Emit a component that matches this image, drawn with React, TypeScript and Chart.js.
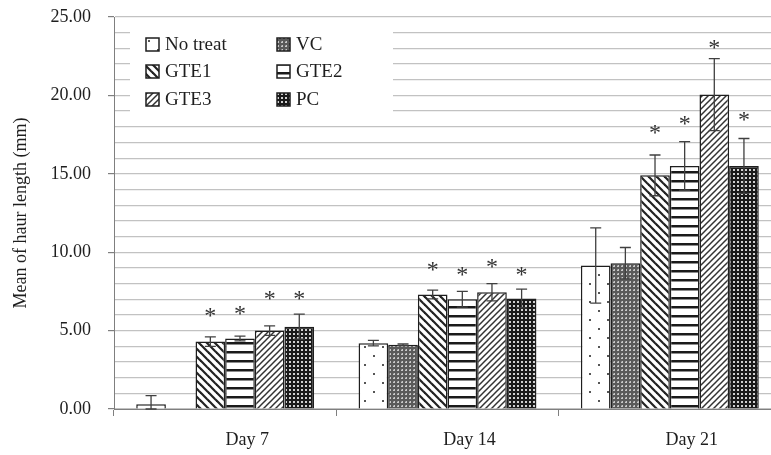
import React, { useEffect, useRef } from 'react';
import { Chart, registerables } from 'chart.js';

Chart.register(...registerables);

const categories = ['Day 7', 'Day 14', 'Day 21'];
const seriesNames = ['No treat', 'VC', 'GTE1', 'GTE2', 'GTE3', 'PC'];

const noTreat = [0.3, 4.2, 9.15];
const vc = [0, 4.1, 9.3];
const gte1 = [4.3, 7.3, 14.9];
const gte2 = [4.5, 7.0, 15.5];
const gte3 = [5.0, 7.45, 20.05];
const pc = [5.25, 7.05, 15.5];

const noTreatErr = [0.55, 0.18, 2.4];
const vcErr = [0, 0.05, 1.0];
const gte1Err = [0.3, 0.28, 1.3];
const gte2Err = [0.15, 0.5, 1.55];
const gte3Err = [0.3, 0.55, 2.3];
const pcErr = [0.8, 0.6, 1.75];

// height (mm) at which the significance asterisk is centred; null = no mark
const noTreatSig = [null, null, null];
const vcSig = [null, null, null];
const gte1Sig = [6.05, 9.0, 17.7];
const gte2Sig = [6.2, 8.65, 18.3];
const gte3Sig = [7.15, 9.2, 23.15];
const pcSig = [7.15, 8.65, 18.55];

const yMin = 0;
const yMax = 25;
const yMajorStep = 5;
const yMinorStep = 1;
const yTitle = 'Mean of haur length (mm)';

const values = [noTreat, vc, gte1, gte2, gte3, pc];
const errors = [noTreatErr, vcErr, gte1Err, gte2Err, gte3Err, pcErr];
const significant: (number | null)[][] = [noTreatSig, vcSig, gte1Sig, gte2Sig, gte3Sig, pcSig];

const FONT = 'Liberation Serif';
const INK = '#1e1e1e';

function tile(w: number, h: number, draw: (c: CanvasRenderingContext2D) => void): CanvasPattern {
  const cv = document.createElement('canvas');
  cv.width = w;
  cv.height = h;
  const c = cv.getContext('2d') as CanvasRenderingContext2D;
  draw(c);
  const p = c.createPattern(cv, 'repeat') as CanvasPattern;
  return p;
}

function makePatterns(): CanvasPattern[] {
  const dots = tile(18, 18, (c) => {
    c.fillStyle = '#fff';
    c.fillRect(0, 0, 18, 18);
    c.fillStyle = '#555';
    c.fillRect(4, 4, 2, 2);
    c.fillRect(13, 13, 2, 2);
  });
  const gray = tile(4, 4, (c) => {
    c.fillStyle = '#5a5a5a';
    c.fillRect(0, 0, 4, 4);
    c.fillStyle = '#c8c8c8';
    c.fillRect(1, 1, 2, 2);
    c.fillStyle = '#8a8a8a';
    c.fillRect(1, 1, 1, 1);
  });
  const wideDown = tile(8, 8, (c) => {
    c.fillStyle = '#fff';
    c.fillRect(0, 0, 8, 8);
    c.strokeStyle = '#222';
    c.lineWidth = 2.2;
    for (let k = -1; k <= 1; k++) {
      c.beginPath();
      c.moveTo(-2 + k * 8, -2);
      c.lineTo(10 + k * 8, 10);
      c.stroke();
    }
  });
  const horiz = tile(8, 9, (c) => {
    c.fillStyle = '#fff';
    c.fillRect(0, 0, 8, 9);
    c.fillStyle = '#1a1a1a';
    c.fillRect(0, 0, 8, 2.5);
  });
  const narrowUp = tile(6, 6, (c) => {
    c.fillStyle = '#fff';
    c.fillRect(0, 0, 6, 6);
    c.strokeStyle = '#333';
    c.lineWidth = 1.5;
    for (let k = -1; k <= 1; k++) {
      c.beginPath();
      c.moveTo(-2 + k * 6, 8);
      c.lineTo(8 + k * 6, -2);
      c.stroke();
    }
  });
  const darkGrid = tile(4, 4, (c) => {
    c.fillStyle = '#1a1a1a';
    c.fillRect(0, 0, 4, 4);
    c.fillStyle = '#d0d0d0';
    c.fillRect(1, 1, 2, 2);
  });
  return [dots, gray, wideDown, horiz, narrowUp, darkGrid];
}

const errorBarPlugin = {
  id: 'errorBars',
  afterDatasetsDraw(chart: any) {
    const ctx = chart.ctx as CanvasRenderingContext2D;
    const y = chart.scales.y;
    ctx.save();
    chart.data.datasets.forEach((ds: any, i: number) => {
      const meta = chart.getDatasetMeta(i);
      meta.data.forEach((el: any, j: number) => {
        const v = values[i][j];
        const e = errors[i][j];
        const x = el.x;
        const top = y.getPixelForValue(v + e);
        const bot = y.getPixelForValue(Math.max(v - e, 0));
        if (e > 0) {
          ctx.strokeStyle = '#404040';
          ctx.lineWidth = 1.3;
          ctx.beginPath();
          ctx.moveTo(x, top);
          ctx.lineTo(x, bot);
          ctx.moveTo(x - 5.5, top);
          ctx.lineTo(x + 5.5, top);
          ctx.moveTo(x - 5.5, bot);
          ctx.lineTo(x + 5.5, bot);
          ctx.stroke();
        }
        const s = significant[i][j];
        if (s !== null && s !== undefined) {
          ctx.fillStyle = '#333';
          ctx.font = `24px "${FONT}"`;
          ctx.textAlign = 'center';
          ctx.textBaseline = 'alphabetic';
          ctx.fillText('*', x, y.getPixelForValue(s) + 9);
        }
      });
    });
    ctx.restore();
  },
};

const boxLegendPlugin = {
  id: 'boxLegend',
  afterDraw(chart: any) {
    const ctx = chart.ctx as CanvasRenderingContext2D;
    ctx.save();
    ctx.fillStyle = '#ffffff';
    ctx.fillRect(130, 20, 263, 100);
    const colX = [146, 277];
    const rowY = [38, 65, 93];
    chart.data.datasets.forEach((ds: any, i: number) => {
      const col = i % 2;
      const row = Math.floor(i / 2);
      const mx = colX[col];
      const my = rowY[row];
      ctx.fillStyle = ds.backgroundColor;
      ctx.fillRect(mx, my, 13, 13);
      ctx.strokeStyle = INK;
      ctx.lineWidth = 1.5;
      ctx.strokeRect(mx, my, 13, 13);
      ctx.fillStyle = INK;
      ctx.font = `19px "${FONT}"`;
      ctx.textAlign = 'left';
      ctx.textBaseline = 'middle';
      ctx.fillText(ds.label, mx + 19, my + 7);
    });
    ctx.restore();
  },
};

export default function App() {
  const ref = useRef<HTMLCanvasElement | null>(null);

  useEffect(() => {
    if (!ref.current) return;
    const patterns = makePatterns();
    const chart = new Chart(ref.current, {
      type: 'bar',
      data: {
        labels: categories,
        datasets: seriesNames.map((name, i) => ({
          label: name,
          data: values[i],
          backgroundColor: patterns[i] as any,
          borderColor: INK,
          borderWidth: 1.5,
          categoryPercentage: 0.8,
          barPercentage: 1.0,
        })),
      },
      options: {
        responsive: false,
        animation: false,
        devicePixelRatio: 1,
        layout: { padding: { left: 0, right: 19, top: 17, bottom: 0 } },
        plugins: {
          legend: { display: false },
          tooltip: { enabled: false },
        },
        scales: {
          x: {
            offset: true,
            grid: {
              offset: true,
              drawOnChartArea: false,
              drawTicks: true,
              tickLength: 7,
              color: '#7f7f7f',
              lineWidth: 1,
            },
            border: { color: '#7f7f7f', width: 1 },
            ticks: {
              font: { family: FONT, size: 18 },
              color: INK,
              padding: 13,
              labelOffset: 22,
              maxRotation: 0,
            },
            afterFit: (s: any) => {
              s.height = 46;
              s.paddingLeft = 0;
              s.paddingRight = 0;
            },
          },
          y: {
            min: yMin,
            max: yMax,
            ticks: {
              stepSize: yMinorStep,
              autoSkip: false,
              callback: (v: any) => (Number(v) % yMajorStep === 0 ? Number(v).toFixed(2) : ''),
              font: { family: FONT, size: 18 },
              color: INK,
              padding: 17,
            },
            grid: {
              color: '#c2c2c2',
              lineWidth: 1.2,
              tickLength: 6,
              tickColor: (c: any) =>
                c.tick && c.tick.value % yMajorStep === 0 ? '#7f7f7f' : 'rgba(0,0,0,0)',
            },
            border: { color: '#7f7f7f', width: 1 },
            title: {
              display: true,
              text: yTitle,
              font: { family: FONT, size: 18 },
              color: INK,
              padding: { top: 10, bottom: 0 },
            },
            afterFit: (s: any) => {
              s.width = 114;
              s.paddingTop = 0;
              s.paddingBottom = 0;
            },
          },
        },
      },
      plugins: [errorBarPlugin, boxLegendPlugin],
    });
    return () => chart.destroy();
  }, []);

  return (
    <div
      style={{
        position: 'absolute',
        left: 0,
        top: 0,
        width: 771,
        height: 455,
        overflow: 'hidden',
        background: '#fff',
      }}
    >
      <canvas
        ref={ref}
        width={800}
        height={455}
        style={{ position: 'absolute', left: 0, top: 0, width: 800, height: 455 }}
      />
    </div>
  );
}
